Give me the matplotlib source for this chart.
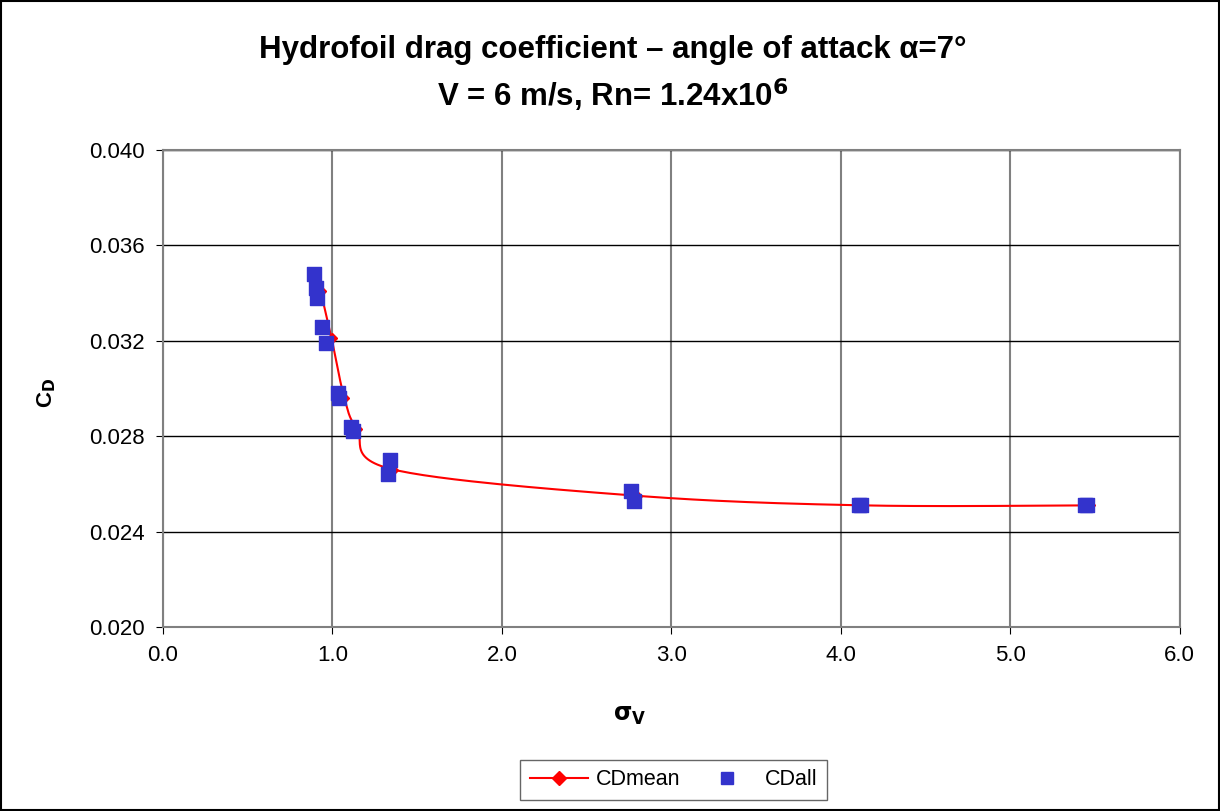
import numpy as np
import matplotlib.pyplot as plt
from matplotlib.ticker import FormatStrFormatter

# CDall - individual measurements
sig_all = [0.89, 0.90, 0.91, 0.94, 0.96, 1.03, 1.04, 1.11, 1.12, 1.34, 1.33,
           2.76, 2.78, 4.11, 4.12, 5.44, 5.45]
cd_all = [0.0348, 0.0342, 0.0338, 0.0326, 0.0319, 0.0298, 0.0296, 0.0284, 0.0282,
          0.0270, 0.0264, 0.0257, 0.0253, 0.0251, 0.0251, 0.0251, 0.0251]

# CDmean - averaged values
sig_mean = [0.93, 0.995, 1.07, 1.145, 1.36, 2.80, 4.13, 5.47]
cd_mean = [0.0341, 0.0321, 0.0296, 0.0283, 0.0266, 0.0255, 0.0251, 0.0251]


def smooth(x, y, n=30):
    # bezier smoothing like excel's smoothed line
    x = np.asarray(x); y = np.asarray(y)
    px = np.concatenate([[x[0]], x, [x[-1]]])
    py = np.concatenate([[y[0]], y, [y[-1]]])
    xs, ys = [], []
    t = np.linspace(0, 1, n)
    for i in range(1, len(px) - 2):
        p0, p1, p2, p3 = [np.array([px[j], py[j]]) for j in range(i - 1, i + 3)]
        m1 = (p2 - p0) / 6
        m2 = (p3 - p1) / 6
        b0, b1, b2, b3 = p1, p1 + m1, p2 - m2, p2
        pts = ((1 - t)[:, None] ** 3 * b0 + 3 * ((1 - t) ** 2 * t)[:, None] * b1
               + 3 * ((1 - t) * t ** 2)[:, None] * b2 + (t ** 3)[:, None] * b3)
        xs.extend(pts[:, 0]); ys.extend(pts[:, 1])
    return xs, ys


plt.rcParams['font.family'] = ['Liberation Sans', 'DejaVu Sans']

fig = plt.figure(figsize=(12.2, 8.11), dpi=100)
ax = fig.add_axes([0.1336, 0.2269, 0.967 - 0.1336, 0.815 - 0.2269])

sx, sy = smooth(sig_mean, cd_mean)
ax.plot(sx, sy, color='red', lw=1.5, zorder=3)
ax.plot(sig_mean, cd_mean, ls='none', marker='D', ms=5, color='red', zorder=3)
ax.scatter(sig_all, cd_all, marker='s', s=110, color='#3333cc', zorder=4)

# legend proxies
ax.plot([], [], color='red', lw=1.5, marker='D', ms=7, label='CDmean')
ax.plot([], [], ls='none', marker='s', ms=8, color='#3333cc', label='CDall')

ax.set_xlim(0, 6)
ax.set_ylim(0.020, 0.040)
ax.set_xticks(np.arange(0, 6.01, 1.0))
ax.set_yticks(np.arange(0.020, 0.0401, 0.004))
ax.xaxis.set_major_formatter(FormatStrFormatter('%.1f'))
ax.yaxis.set_major_formatter(FormatStrFormatter('%.3f'))
ax.tick_params(labelsize=16, direction='out', length=5, pad=8)
ax.grid(axis='y', color='black', lw=1)
ax.grid(axis='x', color='#808080', lw=1.5)
ax.set_axisbelow(True)
for s in ax.spines.values():
    s.set_color('#808080')
    s.set_linewidth(1.5)

fig.text(0.502, 0.938, 'Hydrofoil drag coefficient \u2013 angle of attack \u03b1=7\u00b0',
         ha='center', va='center', fontsize=22.5, fontweight='bold')
fig.text(0.502, 0.883, r'V = 6 m/s, Rn= 1.24x10$^\mathbf{6}$',
         ha='center', va='center', fontsize=22.5, fontweight='bold')
fig.text(0.038, 0.515, r'C$_\mathbf{D}$', ha='center', va='center', fontsize=16,
         fontweight='bold', rotation=90)
fig.text(0.516, 0.117, r'$\mathbf{\sigma}_\mathbf{V}$', ha='center', va='center',
         fontsize=17)

leg = fig.legend(loc='center', bbox_to_anchor=(0.552, 0.0385), ncol=2, fontsize=15.5,
                 frameon=True, fancybox=False, edgecolor='#404040',
                 handlelength=2.7, handletextpad=0.4, columnspacing=0.8,
                 borderpad=0.45)
leg.get_frame().set_linewidth(1)

# outer chart border
fig.patches.append(plt.Rectangle((0.001, 0.001), 0.998, 0.998, transform=fig.transFigure,
                                 fill=False, edgecolor='black', lw=1.5))

fig.savefig('out.png', dpi=100)
